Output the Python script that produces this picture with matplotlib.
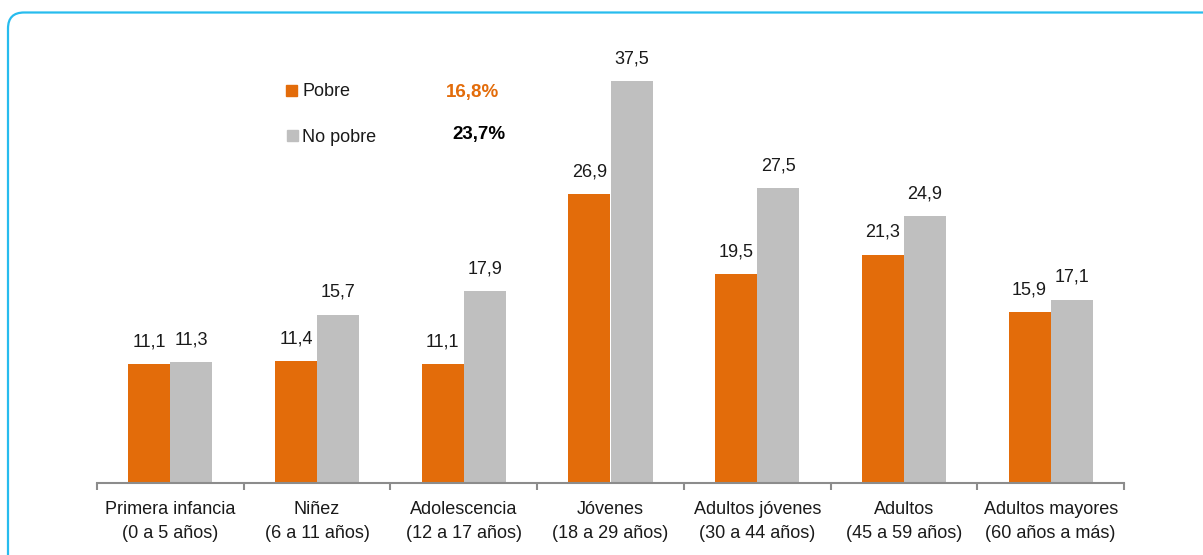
import matplotlib
matplotlib.use("Agg")
import matplotlib.pyplot as plt
import numpy as np
from matplotlib.patches import FancyBboxPatch
from matplotlib.transforms import IdentityTransform

plt.rcParams['font.family'] = ['Liberation Sans', 'DejaVu Sans']
FS = 13

categories = ["Primera infancia\n(0 a 5 años)", "Niñez\n(6 a 11 años)", "Adolescencia\n(12 a 17 años)",
              "Jóvenes\n(18 a 29 años)", "Adultos jóvenes\n(30 a 44 años)", "Adultos\n(45 a 59 años)",
              "Adultos mayores\n(60 años a más)"]
pobre = [11.1, 11.4, 11.1, 26.9, 19.5, 21.3, 15.9]
no_pobre = [11.3, 15.7, 17.9, 37.5, 27.5, 24.9, 17.1]
series_names = ["Pobre", "No pobre"]
totals = ["16,8%", "23,7%"]

ORANGE = "#E36C0A"
GRAY = "#BFBFBF"

W, H = 1203, 555
fig = plt.figure(figsize=(W / 100, H / 100), dpi=100)

# rounded border
border = FancyBboxPatch((8, -40), 1260, 542.5 + 40, boxstyle="round,pad=0,rounding_size=16",
                        transform=IdentityTransform(), fill=False, edgecolor="#27BCEE", linewidth=1.6)
fig.patches.append(border)

ax = fig.add_axes([97 / W, (H - 483) / H, 1027 / W, 429 / H])
x = np.arange(len(categories))
bw = 0.287
b1 = ax.bar(x - bw / 2, pobre, bw, color=ORANGE, label=series_names[0])
b2 = ax.bar(x + bw / 2, no_pobre, bw, color=GRAY, label=series_names[1])

def fmt(v):
    return f"{v:.1f}".replace(".", ",")

for bars, vals in ((b1, pobre), (b2, no_pobre)):
    for r, v in zip(bars, vals):
        ax.annotate(fmt(v), (r.get_x() + r.get_width() / 2, v), xytext=(0, 16),
                    textcoords="offset points", ha="center", va="center", fontsize=FS, color="#1a1a1a")

ax.set_xlim(-0.5, len(categories) - 0.5)
ax.set_ylim(0, 40)
for s in ["top", "right", "left"]:
    ax.spines[s].set_visible(False)
ax.spines["bottom"].set_color("#8c8c8c")
ax.spines["bottom"].set_linewidth(1.5)
ax.set_yticks([])
ax.set_xticks(np.arange(-0.5, len(categories), 1.0))
ax.set_xticklabels([])
ax.tick_params(axis="x", direction="out", length=5, width=1.5, color="#8c8c8c")
ax.set_xticks(x, minor=True)
ax.set_xticklabels(categories, minor=True, fontsize=FS, color="#1a1a1a", linespacing=1.5)
ax.tick_params(axis="x", which="minor", length=0, pad=13)

# legend
fig.patches.append(plt.Rectangle((286, H - 96), 11, 11, transform=IdentityTransform(), color=ORANGE))
fig.patches.append(plt.Rectangle((287, H - 141), 11, 11, transform=IdentityTransform(), color=GRAY))
fig.text(302 / W, (H - 92) / H, series_names[0], fontsize=FS, va="center", ha="left", color="#1a1a1a")
fig.text(302 / W, (H - 137) / H, series_names[1], fontsize=FS, va="center", ha="left", color="#1a1a1a")
fig.text(446 / W, (H - 93) / H, totals[0], fontsize=FS + 0.5, fontweight="bold", va="center", ha="left", color=ORANGE)
fig.text(452 / W, (H - 134) / H, totals[1], fontsize=FS + 0.5, fontweight="bold", va="center", ha="left", color="black")

fig.savefig("out.png", dpi=100)
